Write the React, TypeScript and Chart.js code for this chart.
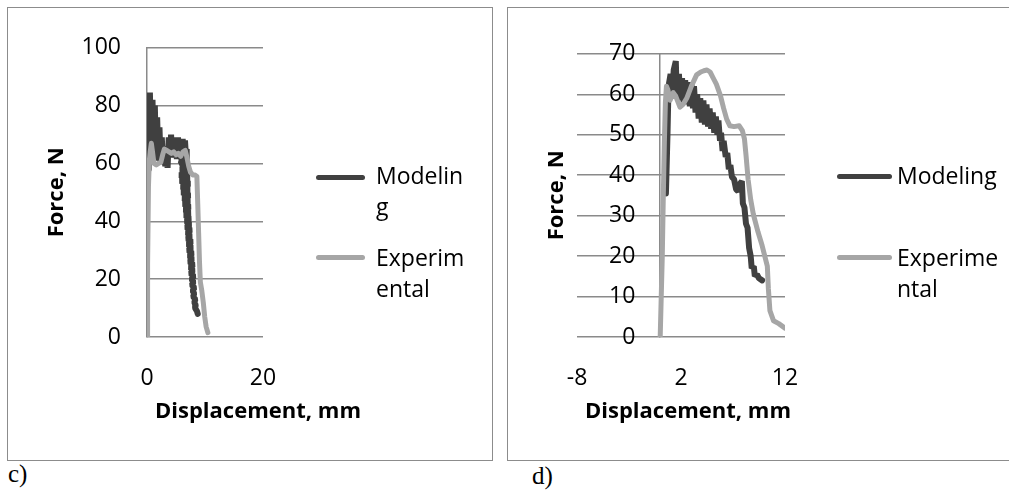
import React, { useEffect, useRef } from "react";
import { Chart, registerables } from "chart.js";

Chart.register(...registerables);

const FONT = "'Open Sans', sans-serif";
const DARK = "#404040";
const LIGHT = "#a6a6a6";
const GRID = "#8a8a8a";

const seriesLabels = ["Modeling", "Experimental"];
const xTitle = "Displacement, mm";
const yTitle = "Force, N";

// ---- panel c) ----
const cXTicks = [0, 20];
const cYTicks = [0, 20, 40, 60, 80, 100];
const cModelingX = [
  0.3, 0.5, 0.75, 0.95, 1.15, 1.35, 1.55, 1.75, 1.95, 2.15, 2.35, 2.55, 2.75, 2.95, 3.15, 3.35, 3.55, 3.75, 3.95, 4.15,
  4.35, 4.55, 4.75, 4.95, 5.15, 5.35, 5.55, 5.75, 5.95, 6.15, 6.35, 6.55, 6.75, 6.85,
  5.8, 7.3, 5.75, 7.4, 5.6, 7.3, 5.7, 7.4, 5.9, 7.3, 6.0, 7.4, 6.2, 7.3, 6.3, 7.4, 6.45, 7.35, 6.55, 7.4,
  6.7, 7.45, 6.75, 7.55, 6.9, 7.5, 6.95, 7.7, 7.05, 7.7, 7.1, 7.85, 7.25, 7.85, 7.3, 8.0, 7.45, 7.95, 7.5, 8.1,
  7.65, 8.05, 7.7, 8.2, 7.85, 8.15, 7.95, 8.35, 8.15, 8.4, 8.3, 8.6, 8.75,
];
const cModelingY = [
  58, 84.5, 62, 82, 62, 80, 61.5, 76, 61, 72.5, 60.5, 69, 60, 66, 59, 63, 58.5, 69, 62, 70,
  62, 69, 62, 68.5, 61.5, 69, 61.5, 68.5, 61, 68.5, 61, 68, 61, 65,
  60, 59, 58, 57, 56, 55, 54, 53, 52, 51, 50, 49, 48, 47, 46, 45, 44, 43, 42, 41,
  40, 39, 38, 37, 36, 35, 34, 33, 32, 31, 30, 29, 28, 27, 26, 25, 24, 23, 22, 21,
  20, 19, 18, 17, 16, 15, 14, 13, 12, 11, 10, 9, 8,
];
const cExperimentalX = [0, 0.1, 0.25, 0.4, 0.55, 0.75, 0.95, 1.2, 1.6, 2.0, 2.4, 2.7, 3.0, 3.4, 3.8, 4.2, 4.6, 5.0, 5.4, 5.8, 6.2, 6.6, 6.9, 7.2, 7.5, 7.9, 8.3, 8.6, 8.75, 8.9, 9.05, 9.2, 9.45, 9.7, 9.95, 10.2, 10.5];
const cExperimentalY = [0, 25, 52, 61, 64, 67, 64, 60, 59.5, 60, 60.5, 63, 65, 64.5, 64, 63.5, 64, 63, 63.5, 62.5, 64, 64.5, 62, 59, 57, 56, 56, 55.5, 46, 36, 26, 19, 16, 12, 7, 3.5, 1.5];

// ---- panel d) ----
const dXTicks = [-8, 2, 12];
const dYTicks = [0, 10, 20, 30, 40, 50, 60, 70];
const dModelingX = [
  0.55, 0.7, 0.8, 1.0, 1.15, 1.3, 1.5, 1.6, 1.8, 1.95, 2.1, 2.25, 2.4, 2.55, 2.7, 2.85, 3.0, 3.15, 3.25, 3.4,
  3.55, 3.7, 3.85, 4.0, 4.15, 4.3, 4.45, 4.6, 4.75, 4.9, 5.05, 5.2, 5.35, 5.5, 5.6, 5.75, 5.85, 6.0, 6.1, 6.3,
  6.45, 6.6, 6.75, 6.9, 7.1, 7.3, 7.5, 7.7, 7.85, 7.95, 8.1, 8.25, 8.4, 8.55, 8.7, 8.8, 9.0, 9.1, 9.3, 9.5, 9.8,
];
const dModelingY = [
  35.5, 50, 62, 65, 59, 66, 68.2, 59, 65, 58.5, 64, 58, 63.5, 57.5, 63, 57, 62.5, 56.5, 62, 55.5,
  60, 54, 59, 53, 58.5, 52.5, 57.5, 52, 56.5, 51.5, 55.5, 50.5, 54.5, 50, 53.5, 48.5, 50.5, 46, 48.5, 44.5,
  45.5, 41.5, 42.5, 39.5, 39, 36.5, 36, 38, 38.5, 33, 32, 28, 27, 22, 20, 17, 17.5, 15, 15.5, 14.5, 14,
];
const dExperimentalX = [0, 0.1, 0.2, 0.3, 0.4, 0.5, 0.6, 0.75, 0.95, 1.25, 1.5, 1.9, 2.2, 2.55, 3.0, 3.5, 3.9, 4.2, 4.5, 4.8, 5.1, 5.4, 5.8, 6.1, 6.4, 6.7, 7.1, 7.6, 7.9, 8.1, 8.25, 8.45, 8.7, 8.95, 9.4, 9.8, 10.3, 10.4, 10.55, 10.9, 11.4, 12];
const dExperimentalY = [0, 10, 20, 35, 48, 58, 62, 61, 58.5, 60.4, 59.5, 56.8, 57.5, 59, 62, 64.8, 65.5, 65.8, 66, 65.5, 64, 62.5, 59.6, 56.5, 53.8, 52.2, 52, 52.2, 51, 49, 45, 39, 34, 30.4, 26, 22.6, 17.5, 12, 6.5, 4, 3.3, 2.2];

const zip = (xs: number[], ys: number[]) => xs.map((x, i) => ({ x, y: ys[i] }));

// Widens/shifts the x-axis title span only while the scale layers are painted
// (restored before datasets are drawn so clipping/data mapping are untouched).
const titleSpanPlugin = {
  id: "titleSpan",
  beforeDraw(chart: any, _args: any, opts: any) {
    const s = chart.scales.x;
    if (!s || !opts) return;
    s._savedLR = [s.left, s.right];
    const c = (s.left + s.right) / 2 + (opts.dx || 0);
    const hw = Math.max((s.right - s.left) / 2, opts.halfWidth || 0);
    s.left = c - hw;
    s.right = c + hw;
  },
  beforeDatasetsDraw(chart: any) {
    const s = chart.scales.x;
    if (s && s._savedLR) {
      s.left = s._savedLR[0];
      s.right = s._savedLR[1];
      s._savedLR = null;
    }
  },
};

type PanelProps = {
  xTicks: number[];
  yTicks: number[];
  modX: number[];
  modY: number[];
  expX: number[];
  expY: number[];
  width: number;
  height: number;
  titleAxisWidth: number;
  padRight: number;
  titleDx: number;
  mirror: boolean;
  tickPad: number;
};

function Panel(p: PanelProps) {
  const ref = useRef<HTMLCanvasElement | null>(null);
  useEffect(() => {
    if (!ref.current) return;
    const tickFont = { family: FONT, size: 23 };
    const titleFont = { family: FONT, size: 22, weight: "bold" as const };
    const yMin = p.yTicks[0];
    const yMax = p.yTicks[p.yTicks.length - 1];
    const chart = new Chart(ref.current, {
      type: "scatter",
      data: {
        datasets: [
          {
            label: seriesLabels[0],
            data: zip(p.modX, p.modY),
            showLine: true,
            borderColor: DARK,
            backgroundColor: DARK,
            borderWidth: 6,
            pointRadius: 0,
            borderJoinStyle: "bevel",
            borderCapStyle: "round",
            tension: 0,
            order: 1,
          },
          {
            label: seriesLabels[1],
            data: zip(p.expX, p.expY),
            showLine: true,
            borderColor: LIGHT,
            backgroundColor: LIGHT,
            borderWidth: 5,
            pointRadius: 0,
            borderJoinStyle: "round",
            borderCapStyle: "round",
            tension: 0,
            order: 0,
          },
        ],
      },
      options: {
        animation: false,
        responsive: false,
        maintainAspectRatio: false,
        layout: { padding: { left: 10, right: p.padRight, top: 29, bottom: 20 } },
        plugins: {
          legend: { display: false },
          tooltip: { enabled: false },
          titleSpan: { dx: p.titleDx, halfWidth: 125 },
        } as any,
        scales: {
          x: {
            type: "linear",
            min: p.xTicks[0],
            max: p.xTicks[p.xTicks.length - 1],
            afterBuildTicks: (s: any) => {
              s.ticks = p.xTicks.map((v) => ({ value: v }));
            },
            afterFit: (s: any) => {
              s.height = 102;
            },
            grid: { display: false },
            border: { display: false },
            ticks: { font: tickFont, color: "#000", padding: 20, maxRotation: 0, autoSkip: false },
            title: { display: true, text: xTitle, font: titleFont, color: "#000", padding: { top: 0, bottom: 14 } },
          },
          yt: {
            type: "linear",
            position: "left",
            min: yMin,
            max: yMax,
            afterBuildTicks: (s: any) => {
              s.ticks = p.yTicks.map((v) => ({ value: v }));
            },
            afterFit: (s: any) => {
              s.width = p.titleAxisWidth;
            },
            grid: { display: false, drawTicks: false },
            border: { display: false },
            ticks: {
              font: tickFont,
              color: "#000",
              padding: p.tickPad,
              mirror: p.mirror,
              crossAlign: p.mirror ? "far" : "near",
              autoSkip: false,
            },
            title: { display: true, text: yTitle, font: titleFont, color: "#000", padding: { top: 26, bottom: 0 } },
          },
          y: {
            type: "linear",
            position: { x: 0 } as any,
            min: yMin,
            max: yMax,
            afterBuildTicks: (s: any) => {
              s.ticks = p.yTicks.map((v) => ({ value: v }));
            },
            grid: { color: GRID, lineWidth: 1.5, drawTicks: false },
            border: { display: true, color: GRID, width: 1.5 },
            ticks: { display: false },
          },
        },
      },
      plugins: [titleSpanPlugin],
    } as any);
    return () => chart.destroy();
  }, []);
  return <canvas ref={ref} width={p.width} height={p.height} style={{ width: p.width, height: p.height, display: "block" }} />;
}

const legendText: React.CSSProperties = {
  position: "absolute",
  fontFamily: FONT,
  fontSize: 23,
  lineHeight: "31px",
  color: "#000",
  whiteSpace: "nowrap",
};

function LegendLine({ left, top, width, color }: { left: number; top: number; width: number; color: string }) {
  return (
    <div
      style={{
        position: "absolute",
        left,
        top: top - 2.5,
        width,
        height: 5,
        borderRadius: 2.5,
        background: color,
      }}
    />
  );
}

export default function App() {
  return (
    <div style={{ position: "absolute", left: 0, top: 0, width: 1009, height: 491, background: "#fff", overflow: "hidden" }}>
      {/* frame c */}
      <div style={{ position: "absolute", left: 7, top: 7, width: 486, height: 454, border: "1.5px solid #8c8c8c", boxSizing: "border-box" }} />
      {/* frame d */}
      <div style={{ position: "absolute", left: 507, top: 7, width: 510, height: 454, border: "1.5px solid #8c8c8c", boxSizing: "border-box" }} />

      <div style={{ position: "absolute", left: 8, top: 8 }}>
        <Panel
          xTicks={cXTicks}
          yTicks={cYTicks}
          modX={cModelingX}
          modY={cModelingY}
          expX={cExperimentalX}
          expY={cExperimentalY}
          width={483}
          height={451}
          titleAxisWidth={129}
          padRight={228}
          titleDx={53}
          mirror={false}
          tickPad={26}
        />
      </div>
      <div style={{ position: "absolute", left: 508, top: 8 }}>
        <Panel
          xTicks={dXTicks}
          yTicks={dYTicks}
          modX={dModelingX}
          modY={dModelingY}
          expX={dExperimentalX}
          expY={dExperimentalY}
          width={500}
          height={451}
          titleAxisWidth={59}
          padRight={223}
          titleDx={7}
          mirror={true}
          tickPad={32}
        />
      </div>

      {/* legend c */}
      <LegendLine left={316} top={177} width={49} color={DARK} />
      <div style={{ ...legendText, left: 376, top: 160 }}>
        Modelin
        <br />g
      </div>
      <LegendLine left={316} top={257} width={49} color={LIGHT} />
      <div style={{ ...legendText, left: 376, top: 242 }}>
        Experim
        <br />
        ental
      </div>

      {/* legend d */}
      <LegendLine left={837} top={176} width={55} color={DARK} />
      <div style={{ ...legendText, left: 897, top: 160 }}>Modeling</div>
      <LegendLine left={837} top={257} width={55} color={LIGHT} />
      <div style={{ ...legendText, left: 897, top: 242 }}>
        Experime
        <br />
        ntal
      </div>

      <div style={{ position: "absolute", left: 8, top: 461, fontFamily: "'Liberation Serif', serif", fontSize: 25, lineHeight: 1, color: "#000" }}>c)</div>
      <div style={{ position: "absolute", left: 532, top: 463, fontFamily: "'Liberation Serif', serif", fontSize: 25, lineHeight: 1, color: "#000" }}>d)</div>
    </div>
  );
}
